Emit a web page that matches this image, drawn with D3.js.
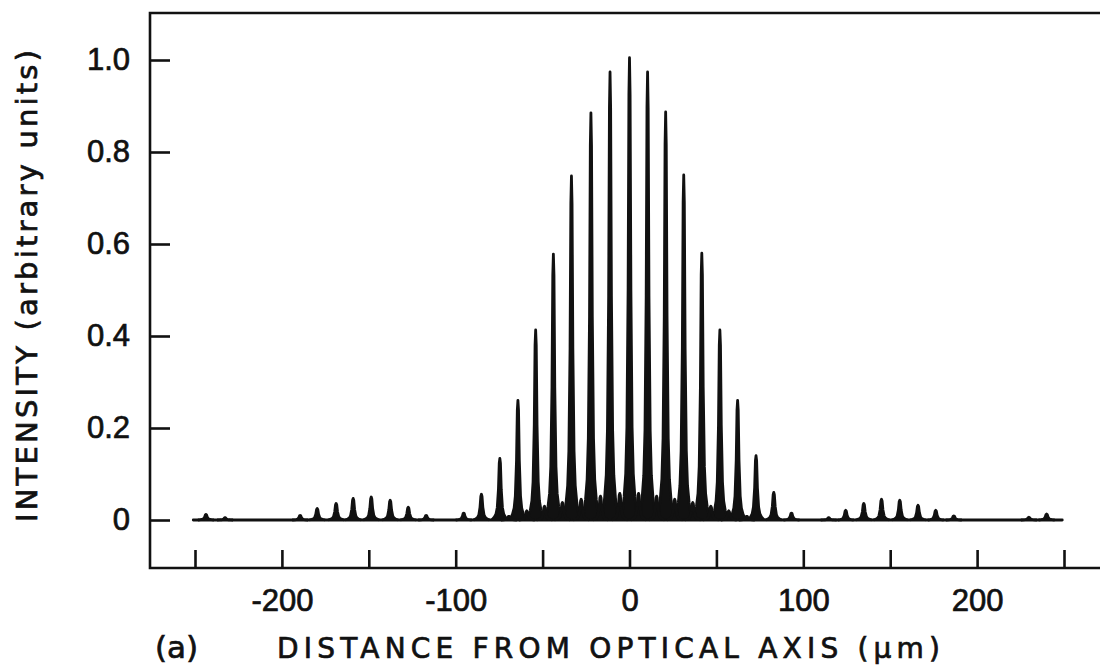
<!DOCTYPE html>
<html>
<head>
<meta charset="utf-8">
<script src="https://cdn.jsdelivr.net/npm/d3@7"></script>
<style>
  html, body { margin: 0; padding: 0; background: #fff; }
  svg { display: block; font-family: "DejaVu Sans", sans-serif; }
  .axis text { font-size: 31px; fill: #111; stroke: #111; stroke-width: 0.7px; }
  .axis line { stroke: #111; stroke-width: 2.6; }
  .axis .domain { display: none; }
  .title { fill: #111; stroke: #111; stroke-width: 0.7px; }
</style>
</head>
<body>
<div id="chart"></div>
<script>
// Fringe peaks: position (um) and intensity.
const centralPos = [-95.4, -85.2, -74.6, -64.2, -54, -43.8, -33.4, -22.2, -11.2, 0,
    10.4, 20.8, 31.2, 41.6, 52, 62.2, 72.8, 83, 93.2];
const centralHeight = [0.015, 0.056, 0.134, 0.26, 0.413, 0.578, 0.748, 0.885, 0.974, 1.005,
    0.974, 0.887, 0.75, 0.58, 0.413, 0.26, 0.14, 0.06, 0.015];

// dense fill between neighbouring central peaks (one value per gap)
const gapFloor = [0, 0, 0.005, 0.012, 0.02, 0.026, 0.032, 0.038, 0.042,
    0.042, 0.038, 0.032, 0.026, 0.02, 0.012, 0.005, 0, 0];
const gapSpike = [0, 0, 0.008, 0.02, 0.03, 0.038, 0.045, 0.052, 0.058,
    0.058, 0.052, 0.045, 0.038, 0.03, 0.02, 0.008, 0, 0];

const leftLobePos = [-243.7, -232.7, -189.5, -179.7, -168.8, -159, -148.6, -137.7, -127.3, -117];
const leftLobeHeight = [0.012, 0.005, 0.01, 0.025, 0.036, 0.047, 0.05, 0.043, 0.028, 0.01];
const rightLobePos = [114.6, 124.4, 134.8, 145, 155.5, 166, 176.2, 186.6, 229.8, 240];
const rightLobeHeight = [0.005, 0.021, 0.036, 0.045, 0.043, 0.032, 0.021, 0.009, 0.006, 0.013];

const traceExtent = [-251, 249];
const yTicks = [0, 0.2, 0.4, 0.6, 0.8, 1.0];
const xTicks = [-250, -200, -150, -100, -50, 0, 50, 100, 150, 200, 250];
const xLabels = [-200, -100, 0, 100, 200];

const width = 1100;
const height = 669;
const frame = { left: 150, top: 13, bottom: 568, right: 1100 };
const ink = "#111";
const lineWidth = 2.6;

// half-width in px against fraction of peak height (spike with flared foot)
const peakProfile = [[8, 0], [5.4, 0.05], [3.8, 0.1], [2.6, 0.2], [1.4, 0.5], [0.6, 0.92], [0, 1]];

const x = d3.scaleLinear().domain([-250, 250]).range([195, 1064]);
const y = d3.scaleLinear().domain([0, 1]).range([520, 60]);

const svg = d3.select("#chart")
    .append("svg")
    .attr("width", width)
    .attr("height", height);

// frame: left side, top and bottom run to the page edge
svg.append("path")
    .attr("d", `M${frame.right},${frame.top}H${frame.left}V${frame.bottom}H${frame.right}`)
    .attr("fill", "none")
    .attr("stroke", ink)
    .attr("stroke-width", lineWidth);

svg.append("g")
    .attr("class", "axis")
    .attr("transform", `translate(${frame.left},0)`)
    .call(d3.axisLeft(y)
        .tickValues(yTicks)
        .tickSize(-20)
        .tickPadding(20)
        .tickFormat(d => d === 0 ? "0" : d.toFixed(1)));

svg.append("g")
    .attr("class", "axis")
    .attr("transform", `translate(0,${frame.bottom})`)
    .call(d3.axisBottom(x)
        .tickValues(xTicks)
        .tickSize(-18)
        .tickPadding(21)
        .tickFormat(d => xLabels.includes(d) ? String(d) : ""));

const plot = svg.append("g");

// baseline of the trace
plot.append("path")
    .attr("d", d3.line()(traceExtent.map(v => [x(v), y(0)])))
    .attr("fill", "none")
    .attr("stroke", ink)
    .attr("stroke-width", 2.8)
    .attr("stroke-linecap", "round");

// filled floor between central fringes
const gaps = gapFloor.map((f, i) => ({ a: centralPos[i], b: centralPos[i + 1], f, s: gapSpike[i] }))
    .filter(g => g.f > 0);

const floorArea = d3.area()
    .x(d => d[0])
    .y0(y(0))
    .y1(d => d[1]);

plot.selectAll(".floor")
    .data(gaps)
    .join("path")
    .attr("class", "floor")
    .attr("d", g => floorArea([[x(g.a), y(g.f)], [x((g.a + g.b) / 2), y(g.f * 0.8)], [x(g.b), y(g.f)]]))
    .attr("fill", ink)
    .attr("stroke", ink)
    .attr("stroke-width", 1.5);

const peaks = [
    ...leftLobePos.map((p, i) => ({ p, h: leftLobeHeight[i] })),
    ...centralPos.map((p, i) => ({ p, h: centralHeight[i] })),
    ...rightLobePos.map((p, i) => ({ p, h: rightLobeHeight[i] })),
    ...gaps.filter(g => g.s > 0).map(g => ({ p: (g.a + g.b) / 2, h: g.s }))
];

const peakPath = d => {
    const cx = x(d.p);
    const left = peakProfile.map(([dx, f]) => [cx - dx, y(f * d.h)]);
    const right = peakProfile.slice(0, -1).reverse().map(([dx, f]) => [cx + dx, y(f * d.h)]);
    return d3.line()(left.concat(right));
};

plot.selectAll(".peak")
    .data(peaks)
    .join("path")
    .attr("class", "peak")
    .attr("d", peakPath)
    .attr("fill", ink)
    .attr("stroke", ink)
    .attr("stroke-width", 2.8)
    .attr("stroke-linejoin", "round");

// titles
svg.append("text")
    .attr("class", "title")
    .attr("x", 155)
    .attr("y", 658)
    .attr("font-size", 31)
    .text("(a)");

svg.append("text")
    .attr("class", "title")
    .attr("x", 277)
    .attr("y", 658)
    .attr("font-size", 28)
    .attr("textLength", 663)
    .attr("lengthAdjust", "spacing")
    .text("DISTANCE FROM OPTICAL AXIS (μm)");

svg.append("text")
    .attr("class", "title")
    .attr("transform", "translate(37,522) rotate(-90)")
    .attr("font-size", 29)
    .attr("textLength", 472)
    .attr("lengthAdjust", "spacing")
    .text("INTENSITY (arbitrary units)");
</script>
</body>
</html>
